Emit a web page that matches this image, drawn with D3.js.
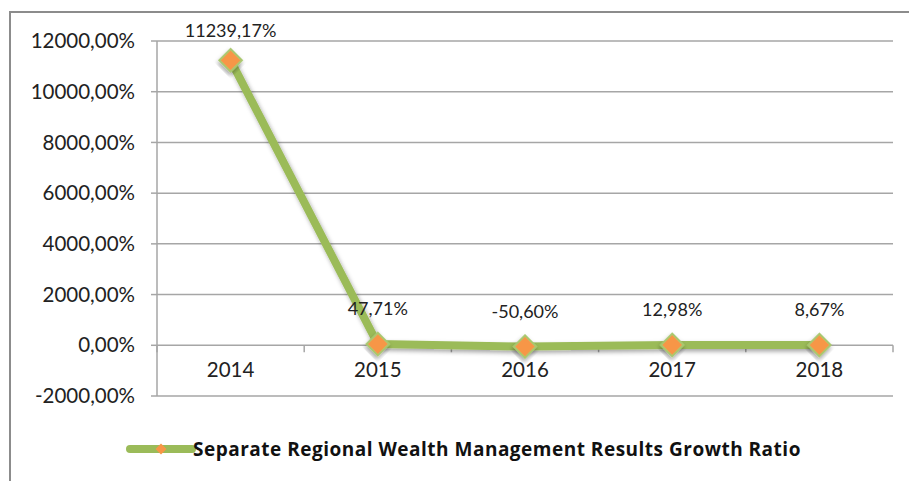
<!DOCTYPE html>
<html>
<head>
<meta charset="utf-8">
<script src="https://cdn.jsdelivr.net/npm/d3@7"></script>
<style>
  body { margin: 0; background: #fff; }
  svg { display: block; font-family: Lato, "Open Sans", sans-serif; }
</style>
</head>
<body>
<svg id="chart" width="909" height="481"></svg>
<script>
const years = ["2014", "2015", "2016", "2017", "2018"];
const growth = [11239.17, 47.71, -50.60, 12.98, 8.67];
const labels = ["11239,17%", "47,71%", "-50,60%", "12,98%", "8,67%"];
const yTicks = [-2000, 0, 2000, 4000, 6000, 8000, 10000, 12000];
const seriesName = "Separate Regional Wealth Management Results Growth Ratio";

const width = 909, height = 481;
const margin = {top: 41, right: 16, bottom: 85, left: 157};

const svg = d3.select("#chart");

// outer chart border (only top and left edges show)
svg.append("path")
  .attr("d", `M10,${height} V12 H${width}`)
  .attr("fill", "none")
  .attr("stroke", "#8c8c8c")
  .attr("stroke-width", 2);

const x = d3.scaleBand()
  .domain(years)
  .range([margin.left, width - margin.right])
  .padding(0);

const y = d3.scaleLinear()
  .domain([-2000, 12000])
  .range([height - margin.bottom, margin.top]);

const fmt = d => d3.format(".2f")(d).replace(".", ",").replace("\u2212", "-") + "%";

// gridlines
svg.append("g")
  .selectAll("line")
  .data(yTicks)
  .join("line")
  .attr("x1", margin.left)
  .attr("x2", width - margin.right)
  .attr("y1", d => y(d))
  .attr("y2", d => y(d))
  .attr("stroke", "#a6a6a6")
  .attr("stroke-width", 1.5);

// y axis line
svg.append("line")
  .attr("x1", margin.left).attr("x2", margin.left)
  .attr("y1", y(12000)).attr("y2", y(-2000))
  .attr("stroke", "#a6a6a6")
  .attr("stroke-width", 1.5);

// y axis labels + ticks
const yAxis = svg.append("g");
yAxis.selectAll("line")
  .data(yTicks)
  .join("line")
  .attr("x1", margin.left - 6).attr("x2", margin.left)
  .attr("y1", d => y(d)).attr("y2", d => y(d))
  .attr("stroke", "#a6a6a6").attr("stroke-width", 1.5);
yAxis.selectAll("text")
  .data(yTicks)
  .join("text")
  .attr("x", 135)
  .attr("y", d => y(d))
  .attr("dy", "0.35em")
  .attr("text-anchor", "end")
  .attr("font-size", 20.5)
  .attr("fill", "#222")
  .text(fmt);

// category ticks on zero line
const bounds = years.map(d => x(d)).concat([x.range()[1]]);
svg.append("g")
  .selectAll("line")
  .data(bounds)
  .join("line")
  .attr("x1", d => d).attr("x2", d => d)
  .attr("y1", y(0)).attr("y2", y(0) + 7)
  .attr("stroke", "#a6a6a6").attr("stroke-width", 1.5);

// category labels
svg.append("g")
  .selectAll("text")
  .data(years)
  .join("text")
  .attr("x", d => x(d) + x.bandwidth() / 2)
  .attr("y", y(0) + 32)
  .attr("text-anchor", "middle")
  .attr("font-size", 20.5)
  .attr("fill", "#222")
  .text(d => d);

// shadow for markers/line
const defs = svg.append("defs");
const f = defs.append("filter").attr("id", "shadow")
  .attr("x", "-30%").attr("y", "-30%").attr("width", "160%").attr("height", "160%");
f.append("feDropShadow")
  .attr("dx", 1.5).attr("dy", 2.5).attr("stdDeviation", 2)
  .attr("flood-color", "#000").attr("flood-opacity", 0.35);

const pts = years.map((d, i) => ({year: d, v: growth[i], label: labels[i]}));
const cx = d => x(d.year) + x.bandwidth() / 2;

svg.append("path")
  .datum(pts)
  .attr("d", d3.line().x(cx).y(d => y(d.v)))
  .attr("fill", "none")
  .attr("stroke", "#9bbb59")
  .attr("stroke-width", 8)
  .attr("stroke-linejoin", "round")
  .attr("filter", "url(#shadow)");

svg.append("g")
  .selectAll("path")
  .data(pts)
  .join("path")
  .attr("transform", d => `translate(${cx(d)},${y(d.v)}) rotate(45)`)
  .attr("d", d3.symbol().type(d3.symbolSquare).size(250))
  .attr("fill", "#f79646")
  .attr("stroke", "#a9c76e")
  .attr("stroke-width", 2)
  .attr("filter", "url(#shadow)");

// data labels
svg.append("g")
  .selectAll("text")
  .data(pts)
  .join("text")
  .attr("x", cx)
  .attr("y", d => Math.max(y(d.v) - 35, 31))
  .attr("dy", "0.35em")
  .attr("text-anchor", "middle")
  .attr("font-size", 18)
  .attr("fill", "#222")
  .text(d => d.label);

// legend
const lg = svg.append("g").attr("transform", "translate(130,449)");
lg.append("line")
  .attr("x1", 0).attr("x2", 62)
  .attr("stroke", "#9bbb59").attr("stroke-width", 8)
  .attr("stroke-linecap", "round");
lg.append("path")
  .attr("transform", "translate(31,0) rotate(45)")
  .attr("d", d3.symbol().type(d3.symbolSquare).size(60))
  .attr("fill", "#f79646");
lg.append("text")
  .attr("x", 63)
  .attr("dy", "0.35em")
  .attr("font-family", "'Open Sans', sans-serif")
  .attr("font-size", 19)
  .attr("letter-spacing", 0.5)
  .attr("font-weight", "bold")
  .attr("fill", "#111")
  .text(seriesName);
</script>
</body>
</html>
